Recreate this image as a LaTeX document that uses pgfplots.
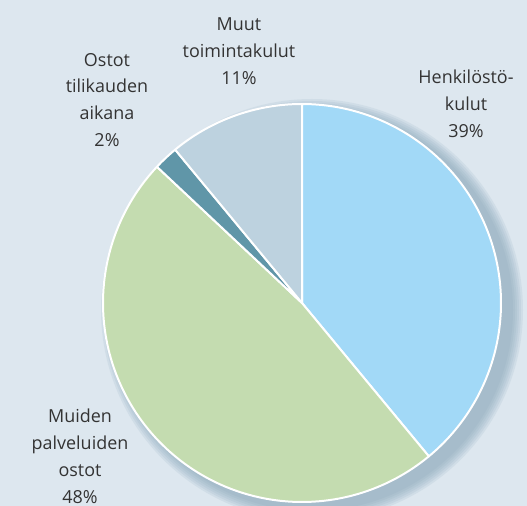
\documentclass[border=0pt]{standalone}
\usepackage{fontspec}
\setmainfont{Open Sans}
\usepackage{pgfplots}
\usepackage{pgfplotstable}
\pgfplotsset{compat=1.18}
\definecolor{bg}{HTML}{DDE7EF}
\definecolor{cA}{HTML}{A2D9F7}
\definecolor{cB}{HTML}{C4DCB0}
\definecolor{cC}{HTML}{6096A8}
\definecolor{cD}{HTML}{BDD2DF}
\definecolor{txt}{HTML}{333333}
\definecolor{shadowc}{HTML}{7F9FB2}

\pgfplotstableread{
slice value
1 39
2 48
3 2
4 11
}\piedata
\pgfplotstablegetelem{0}{value}\of\piedata \let\vA\pgfplotsretval
\pgfplotstablegetelem{1}{value}\of\piedata \let\vB\pgfplotsretval
\pgfplotstablegetelem{2}{value}\of\piedata \let\vC\pgfplotsretval
\pgfplotstablegetelem{3}{value}\of\piedata \let\vD\pgfplotsretval
\pgfmathsetmacro\bA{3.6*\vA}
\pgfmathsetmacro\bB{\bA+3.6*\vB}
\pgfmathsetmacro\bC{\bB+3.6*\vC}
\pgfmathsetmacro\bD{\bC+3.6*\vD}

\tikzset{
  lbl/.style={align=center, text=txt, font=\fontsize{18}{27}\selectfont},
  slice/.style={draw=white, line width=2pt, line join=round, samples=120},
  shd/.style={shadowc, opacity=0.13},
}

\begin{document}
\begin{tikzpicture}
\begin{axis}[
  scale only axis, width=527bp, height=506bp,
  xmin=-302, xmax=225, ymin=-203, ymax=303,
  axis lines=none, ticks=none,
  axis background/.style={fill=bg},
]
\fill[shd] (axis cs:10,-7) circle[radius=211bp];
\fill[shd] (axis cs:10,-7) circle[radius=209bp];
\fill[shd] (axis cs:10,-7) circle[radius=207bp];
\fill[shd] (axis cs:10,-7) circle[radius=205bp];
\fill[shd] (axis cs:10,-7) circle[radius=203bp];
\fill[shd] (axis cs:10,-7) circle[radius=201bp];
\addplot[slice, fill=cA, domain=0:\bA] ({199*sin(x)},{199*cos(x)}) -- (axis cs:0,0) -- cycle;
\addplot[slice, fill=cB, domain=\bA:\bB] ({199*sin(x)},{199*cos(x)}) -- (axis cs:0,0) -- cycle;
\addplot[slice, fill=cC, domain=\bB:\bC] ({199*sin(x)},{199*cos(x)}) -- (axis cs:0,0) -- cycle;
\addplot[slice, fill=cD, domain=\bC:\bD] ({199*sin(x)},{199*cos(x)}) -- (axis cs:0,0) -- cycle;
\node[lbl] at (axis cs:164,199) {Henkilöstö-\\kulut\\39\%};
\node[lbl] at (axis cs:-63,252) {Muut\\toimintakulut\\11\%};
\node[lbl] at (axis cs:-195,203) {Ostot\\tilikauden\\aikana\\2\%};
\node[lbl] at (axis cs:-222,-153) {Muiden\\palveluiden\\ostot\\48\%};
\end{axis}
\end{tikzpicture}
\end{document}
